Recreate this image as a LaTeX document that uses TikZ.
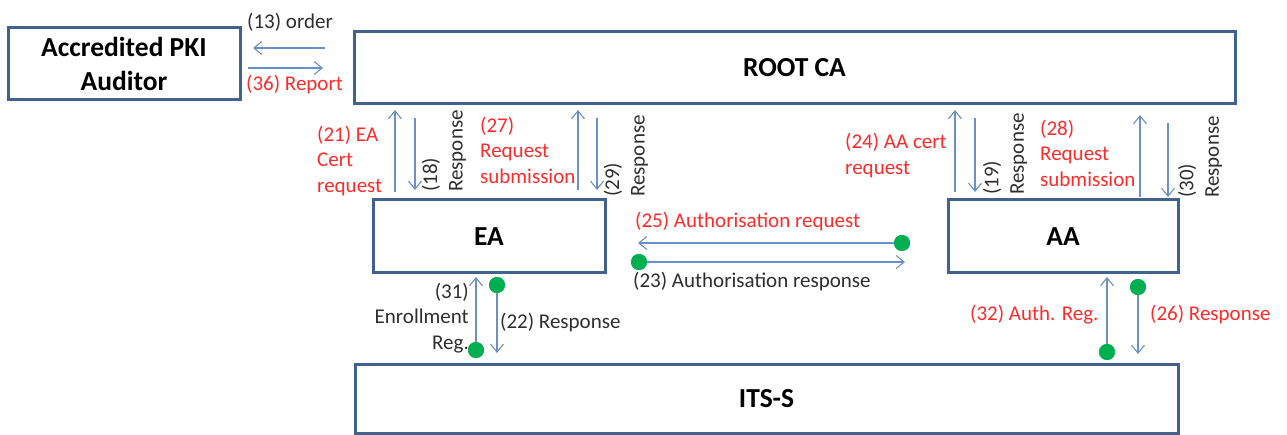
\documentclass[tikz,border=0pt]{standalone}
\usepackage{fontspec}
\setmainfont{Carlito}
\usetikzlibrary{arrows.meta}

\definecolor{boxline}{HTML}{41618E}
\definecolor{flow}{HTML}{6990C8}
\definecolor{dotgreen}{HTML}{00B050}
\definecolor{redtxt}{HTML}{FF2B2B}
\definecolor{darktxt}{HTML}{2E2E2E}

\begin{document}
\begin{tikzpicture}[x=1pt,y=-1pt,
  entity/.style={draw=boxline, line width=3pt, fill=white, inner sep=0pt,
    align=center, font=\fontsize{27.5}{34}\selectfont\bfseries},
  flowarrow/.style={draw=flow, line width=1.1pt,
    -{Straight Barb[length=8pt,width=13pt,line width=1.1pt]}},
  gdot/.style={circle, fill=dotgreen, inner sep=0pt, minimum size=16pt},
  lbl/.style={inner sep=0pt, font=\fontsize{21}{25.5}\selectfont},
  lblred/.style={lbl, text=redtxt},
  lbldark/.style={lbl, text=darktxt},
  sidelbl/.style={lbldark, rotate=90, anchor=west, align=left}
]
\useasboundingbox (0,0) rectangle (1287,435);

% entities
\node[entity, minimum width=232pt, minimum height=72pt] (auditor) at (124,64)
  {Accredited PKI\\Auditor};
\node[entity, minimum width=881pt, minimum height=72pt] (root) at (794.5,68) {ROOT CA};
\node[entity, minimum width=232pt, minimum height=73pt] (ea) at (489,236.5) {EA};
\node[entity, minimum width=230pt, minimum height=73pt] (aa) at (1063,236.5) {AA};
\node[entity, minimum width=823pt, minimum height=69pt] (its) at (766.5,398.5) {ITS-S};

% auditor <-> root CA
\draw[flowarrow, shorten <=27.5pt, shorten >=11.5pt] (root.west |- 0,48) -- (auditor.east |- 0,48);
\draw[flowarrow, shorten <=6.5pt, shorten >=29.5pt] (auditor.east |- 0,68) -- (root.west |- 0,68);
\node[lbldark, anchor=west] (t13) at (247,22) {(13) order};
\node[lblred, anchor=west] (t36) at (246,85) {(36) Report};

% EA <-> root CA
\draw[flowarrow, shorten <=6.5pt, shorten >=4.5pt] (395,0 |- ea.north) -- (395,0 |- root.south);
\draw[flowarrow, shorten <=12.5pt, shorten >=8.5pt] (415,0 |- root.south) -- (415,0 |- ea.north);
\draw[flowarrow, shorten <=8.5pt, shorten >=4.5pt] (578,0 |- ea.north) -- (578,0 |- root.south);
\draw[flowarrow, shorten <=12.5pt, shorten >=8.5pt] (597,0 |- root.south) -- (597,0 |- ea.north);
\node[lblred, anchor=west, align=left] (t21) at (317,161) {(21) EA\\Cert\\request};
\node[lblred, anchor=west, align=left] (t27) at (480,150) {(27)\\Request\\submission};
\node[sidelbl] (t18) at (444,192) {(18)\\Response};
\node[sidelbl] (t29) at (626,197) {(29)\\Response};

% AA <-> root CA
\draw[flowarrow, shorten <=6.5pt, shorten >=4.5pt] (955,0 |- aa.north) -- (955,0 |- root.south);
\draw[flowarrow, shorten <=12.5pt, shorten >=6.5pt] (975,0 |- root.south) -- (975,0 |- aa.north);
\draw[flowarrow, shorten <=1.5pt, shorten >=9.5pt] (1140,0 |- aa.north) -- (1140,0 |- root.south);
\draw[flowarrow, shorten <=17.5pt, shorten >=1.5pt] (1168,0 |- root.south) -- (1168,0 |- aa.north);
\node[lblred, anchor=west, align=left] (t24) at (845,155.5) {(24) AA cert\\request};
\node[lblred, anchor=west, align=left] (t28) at (1040,153) {(28)\\Request\\submission};
\node[sidelbl] (t19) at (1005,195) {(19)\\Response};
\node[sidelbl] (t30) at (1200,198) {(30)\\Response};

% EA <-> AA
\node[gdot] (d25) at (902,243) {};
\node[gdot] (d23) at (639,262) {};
\draw[flowarrow, shorten >=31.5pt] (d25.center) -- (ea.east |- d25);
\draw[flowarrow, shorten >=41.5pt] (d23.center) -- (aa.west |- d23);
\node[gdot] at (d25) {};
\node[gdot] at (d23) {};
\node[lblred, anchor=west] (t25) at (635,222) {(25) Authorisation request};
\node[lbldark, anchor=west] (t23) at (633,282) {(23) Authorisation response};

% ITS-S <-> EA
\node[gdot] (d31) at (476,350) {};
\node[gdot] (d22) at (497,285) {};
\draw[flowarrow, shorten >=2.5pt] (d31.center) -- (d31 |- ea.south);
\draw[flowarrow, shorten >=9.5pt] (d22.center) -- (d22 |- its.north);
\node[gdot] at (d31) {};
\node[gdot] at (d22) {};
\node[lbldark, anchor=east, align=right] (t31) at (469,318) {(31)\\Enrollment\\Reg.};
\node[lbldark, anchor=west] (t22) at (500,323) {(22) Response};

% ITS-S <-> AA
\node[gdot] (d32) at (1107,352) {};
\node[gdot] (d26) at (1138,287) {};
\draw[flowarrow, shorten >=2.5pt] (d32.center) -- (d32 |- aa.south);
\draw[flowarrow, shorten >=8.5pt] (d26.center) -- (d26 |- its.north);
\node[gdot] at (d32) {};
\node[gdot] at (d26) {};
\node[lblred, anchor=west] (t32) at (970,315) {(32) Auth. Reg.};
\node[lblred, anchor=west] (t26) at (1150,315) {(26) Response};
\end{tikzpicture}
\end{document}
